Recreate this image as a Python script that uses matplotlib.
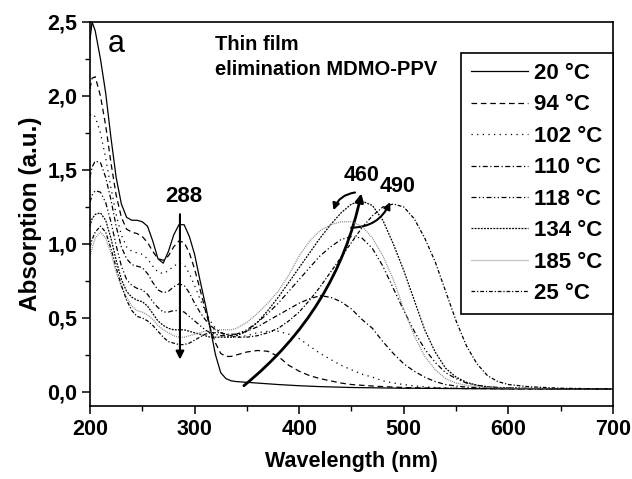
import matplotlib
matplotlib.use("Agg")
import matplotlib.pyplot as plt
from matplotlib.ticker import MultipleLocator, FuncFormatter
from matplotlib.patches import FancyArrowPatch

plt.rcParams['font.family'] = ['Liberation Sans', 'DejaVu Sans']
plt.rcParams['font.weight'] = 'bold'

# wavelength grid (nm)
wl = [200, 202, 205, 210, 215, 220, 225, 230, 235, 240, 245, 250, 255, 260, 265,
      270, 275, 280, 285, 290, 295, 300, 305, 310, 315, 320, 325, 330, 335, 340,
      350, 360, 370, 380, 390, 400, 410, 420, 430, 440, 450, 460, 470, 480, 490,
      500, 510, 520, 530, 540, 550, 560, 570, 580, 590, 600, 620, 650, 700]

a20 = [2.38, 2.50, 2.44, 2.25, 2.02, 1.72, 1.45, 1.27, 1.18, 1.16,
       1.16, 1.15, 1.12, 1.02, 0.90, 0.87, 0.95, 1.06, 1.13, 1.13,
       1.05, 0.93, 0.76, 0.60, 0.43, 0.25, 0.13, 0.09, 0.075, 0.07,
       0.065, 0.06, 0.055, 0.05, 0.046, 0.042, 0.039, 0.036, 0.034, 0.032,
       0.030, 0.029, 0.028, 0.027, 0.026, 0.025, 0.025, 0.024, 0.024, 0.023,
       0.023, 0.022, 0.022, 0.022, 0.021, 0.021, 0.021, 0.02, 0.02]
a94 = [2.05, 2.12, 2.13, 2.00, 1.80, 1.55, 1.33, 1.18, 1.10, 1.08,
       1.07, 1.05, 1.01, 0.95, 0.90, 0.89, 0.92, 0.98, 1.02, 1.01,
       0.94, 0.83, 0.70, 0.56, 0.43, 0.33, 0.26, 0.24, 0.24, 0.25,
       0.27, 0.28, 0.275, 0.24, 0.18, 0.14, 0.11, 0.09, 0.075, 0.06,
       0.05, 0.045, 0.04, 0.036, 0.033, 0.03, 0.028, 0.027, 0.026, 0.025,
       0.024, 0.023, 0.023, 0.022, 0.022, 0.021, 0.021, 0.02, 0.02]
a102 = [1.87, 1.88, 1.86, 1.75, 1.58, 1.38, 1.20, 1.06, 0.98, 0.95,
        0.94, 0.93, 0.90, 0.85, 0.81, 0.80, 0.82, 0.85, 0.87, 0.86,
        0.80, 0.72, 0.63, 0.55, 0.48, 0.43, 0.40, 0.38, 0.37, 0.37,
        0.38, 0.40, 0.41, 0.41, 0.39, 0.36, 0.31, 0.26, 0.22, 0.18,
        0.15, 0.12, 0.10, 0.075, 0.06, 0.05, 0.04, 0.035, 0.03, 0.028,
        0.026, 0.025, 0.024, 0.023, 0.022, 0.022, 0.021, 0.02, 0.02]
a110 = [1.45, 1.52, 1.56, 1.55, 1.45, 1.30, 1.12, 0.98, 0.90, 0.86,
        0.85, 0.84, 0.80, 0.74, 0.69, 0.67, 0.68, 0.71, 0.73, 0.72,
        0.67, 0.60, 0.54, 0.49, 0.45, 0.42, 0.40, 0.39, 0.39, 0.39,
        0.41, 0.44, 0.48, 0.52, 0.56, 0.60, 0.63, 0.65, 0.64, 0.61,
        0.56, 0.49, 0.43, 0.34, 0.26, 0.19, 0.14, 0.10, 0.07, 0.05,
        0.04, 0.033, 0.029, 0.026, 0.024, 0.023, 0.022, 0.021, 0.02]
a118 = [1.28, 1.33, 1.36, 1.35, 1.28, 1.15, 0.99, 0.85, 0.76, 0.72,
        0.70, 0.69, 0.66, 0.61, 0.57, 0.54, 0.54, 0.55, 0.55, 0.54,
        0.51, 0.48, 0.45, 0.42, 0.40, 0.39, 0.38, 0.38, 0.38, 0.39,
        0.42, 0.47, 0.53, 0.60, 0.68, 0.76, 0.84, 0.92, 0.98, 1.03,
        1.05, 1.04, 0.97, 0.85, 0.70, 0.55, 0.41, 0.29, 0.20, 0.13,
        0.09, 0.06, 0.045, 0.035, 0.03, 0.027, 0.024, 0.022, 0.02]
a134 = [1.12, 1.17, 1.20, 1.21, 1.16, 1.04, 0.89, 0.76, 0.68, 0.64,
        0.62, 0.61, 0.58, 0.53, 0.48, 0.45, 0.43, 0.42, 0.42, 0.42,
        0.41, 0.40, 0.39, 0.38, 0.37, 0.37, 0.37, 0.37, 0.37, 0.38,
        0.41, 0.47, 0.55, 0.64, 0.74, 0.84, 0.94, 1.04, 1.13, 1.21,
        1.27, 1.29, 1.26, 1.16, 1.00, 0.82, 0.62, 0.42, 0.27, 0.16,
        0.10, 0.065, 0.045, 0.035, 0.03, 0.027, 0.024, 0.022, 0.02]
a185 = [0.92, 0.97, 1.04, 1.08, 1.04, 0.94, 0.81, 0.71, 0.64, 0.58,
        0.55, 0.54, 0.52, 0.49, 0.45, 0.42, 0.40, 0.38, 0.37, 0.37,
        0.38, 0.39, 0.40, 0.41, 0.42, 0.42, 0.42, 0.42, 0.42, 0.43,
        0.47, 0.53, 0.60, 0.68, 0.79, 0.92, 1.02, 1.09, 1.13, 1.15,
        1.15, 1.12, 1.04, 0.92, 0.76, 0.56, 0.38, 0.24, 0.15, 0.09,
        0.06, 0.045, 0.035, 0.03, 0.027, 0.025, 0.023, 0.021, 0.02]
a25 = [0.98, 1.03, 1.08, 1.12, 1.08, 0.97, 0.84, 0.72, 0.62, 0.55,
       0.51, 0.50, 0.48, 0.45, 0.41, 0.37, 0.34, 0.33, 0.32, 0.32,
       0.33, 0.35, 0.37, 0.39, 0.40, 0.40, 0.40, 0.39, 0.38, 0.37,
       0.37, 0.38, 0.40, 0.43, 0.48, 0.54, 0.62, 0.71, 0.81, 0.91,
       1.01, 1.11, 1.19, 1.25, 1.27, 1.25, 1.17, 1.04, 0.88, 0.68,
       0.48, 0.31, 0.19, 0.11, 0.07, 0.05, 0.035, 0.025, 0.02]

labels = ['20 °C', '94 °C', '102 °C', '110 °C', '118 °C', '134 °C', '185 °C', '25 °C']
series = [a20, a94, a102, a110, a118, a134, a185, a25]
styles = ['-', (0, (4.5, 3)), (0, (1, 3.5)), (0, (4, 2, 1, 2)),
          (0, (4, 2, 1, 2, 1, 2)), (0, (1.5, 1)), (0, (0.8, 0.8)),
          (0, (3, 1.5, 1, 1.5))]
colors = ['black'] * 6 + ['#888888', 'black']

fig = plt.figure(figsize=(6.32, 4.79), dpi=100)
ax = fig.add_axes([0.1424, 0.1524, 0.8275, 0.8017])

for y, lab, ls, c in zip(series, labels, styles, colors):
    ax.plot(wl, y, linestyle=ls, color=c, lw=0.9, label=lab)

ax.set_xlim(200, 700)
ax.set_ylim(-0.095, 2.5)
ax.xaxis.set_major_locator(MultipleLocator(100))
ax.xaxis.set_minor_locator(MultipleLocator(50))
ax.yaxis.set_major_locator(MultipleLocator(0.5))
ax.yaxis.set_minor_locator(MultipleLocator(0.25))
ax.yaxis.set_major_formatter(FuncFormatter(lambda v, p: f'{v:.1f}'.replace('.', ',')))
ax.tick_params(which='major', direction='out', length=6, width=1.1, labelsize=15.5, pad=3)
ax.tick_params(which='minor', direction='out', length=3.5, width=1.0)
for s in ax.spines.values():
    s.set_linewidth(1.2)

ax.set_xlabel('Wavelength (nm)', fontsize=15.5, fontweight='bold', labelpad=8)
ax.set_ylabel('Absorption (a.u.)', fontsize=17.5, fontweight='bold', labelpad=4)

leg = ax.legend(loc='upper left', bbox_to_anchor=(461 / 632, 1 - 53 / 479),
                bbox_transform=fig.transFigure, borderaxespad=0, fontsize=16,
                handlelength=2.55, handletextpad=0.3, labelspacing=0.47,
                borderpad=0.45, fancybox=False, framealpha=1, edgecolor='black')
leg.get_frame().set_linewidth(1.2)

ax.text(217, 2.30, 'a', fontsize=22, fontweight='normal', va='baseline')
ax.text(319.5, 2.31, 'Thin film', fontsize=14.5, fontweight='bold', va='baseline')
ax.text(319.5, 2.14, 'elimination MDMO-PPV', fontsize=14.5, fontweight='bold', va='baseline')

ax.text(290, 1.32, '288', fontsize=16, fontweight='bold', ha='center', va='center')
ax.annotate('', xy=(286, 0.20), xytext=(286, 1.22),
            arrowprops=dict(arrowstyle='-|>', lw=1.5, color='black', mutation_scale=12))

ax.text(460, 1.46, '460', fontsize=15.5, fontweight='bold', ha='center', va='center')
ax.text(494, 1.39, '490', fontsize=15.5, fontweight='bold', ha='center', va='center')

big = FancyArrowPatch((345, 0.03), (460, 1.36), connectionstyle='arc3,rad=0.18',
                      arrowstyle='-|>', mutation_scale=12, lw=2, color='black')
ax.add_patch(big)
left_arc = FancyArrowPatch((456, 1.35), (432, 1.21), connectionstyle='arc3,rad=0.35',
                           arrowstyle='-|>', mutation_scale=10, lw=1.5, color='black')
ax.add_patch(left_arc)
right_arc = FancyArrowPatch((447, 1.11), (488, 1.30), connectionstyle='arc3,rad=0.35',
                            arrowstyle='-|>', mutation_scale=10, lw=1.5, color='black')
ax.add_patch(right_arc)

fig.savefig('out.png', dpi=100)
